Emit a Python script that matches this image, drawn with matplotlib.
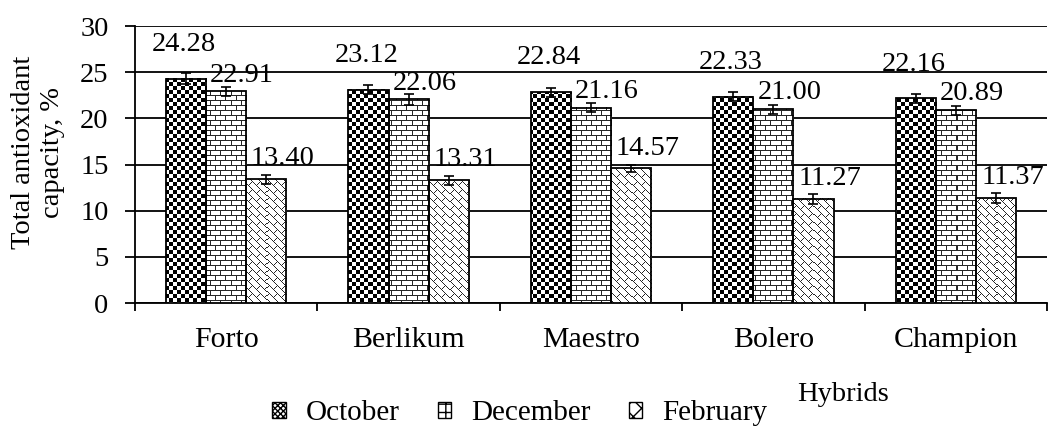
import numpy as np
import matplotlib.pyplot as plt
from matplotlib.patches import Patch

hybrids = ['Forto', 'Berlikum', 'Maestro', 'Bolero', 'Champion']
months = ['October', 'December', 'February']
october = [24.28, 23.12, 22.84, 22.33, 22.16]
december = [22.91, 22.06, 21.16, 21.00, 20.89]
february = [13.40, 13.31, 14.57, 11.27, 11.37]
err_oct = [0.6, 0.5, 0.5, 0.5, 0.5]
err_dec = [0.5, 0.6, 0.5, 0.5, 0.5]
err_feb = [0.5, 0.5, 0.4, 0.5, 0.5]

plt.rcParams['font.family'] = ['Liberation Serif', 'DejaVu Serif']
plt.rcParams['hatch.linewidth'] = 1.0


# fill textures (Excel-like: small checker, horizontal brick, diagonal brick)
def checker(X, Y):
    return ((X // 4 + Y // 4) % 2 == 0).astype(float)


def brick(X, Y):
    row = Y // 5
    hline = (Y % 5 == 0)
    vline = ((X + (row % 2) * 5) % 10 == 0)
    return np.where(hline | vline, 0.15, 1.0)


def diag_brick(X, Y):
    u = X + Y
    v = X - Y
    row = u // 8
    line1 = (u % 8 == 0)
    line2 = ((v + (row % 2) * 8) % 16 == 0)
    return np.where(line1 | line2, 0.15, 1.0)


fig = plt.figure(figsize=(10.48, 4.26), dpi=100)
ax = fig.add_axes([0.1288, 0.2887, 0.8702, 0.6502])
ax.set_xlim(-0.5, 4.5)
ax.set_ylim(0, 30)

x = np.arange(len(hybrids))
w = 0.22
series = [october, december, february]
errs = [err_oct, err_dec, err_feb]
patterns = [checker, brick, diag_brick]
hatches = ['xxxxxx', '++', 'xx']
# label offsets in points (dx, dy above bar top)
lab_off = [(-1.5, 20), (11.5, 7), (12, 10)]

for i, (vals, e) in enumerate(zip(series, errs)):
    pos = x + (i - 1) * w
    bars = ax.bar(pos, vals, w, color='white', edgecolor='black',
                  linewidth=1.3, zorder=3)
    for b in bars:
        x0, x1 = b.get_x(), b.get_x() + b.get_width()
        y1 = b.get_height()
        (px0, py0), (px1, py1) = ax.transData.transform([(x0, 0), (x1, y1)])
        cols = np.arange(int(px0), int(px1))
        rows = np.arange(int(py1), int(py0), -1)
        X, Y = np.meshgrid(cols, rows)
        ax.imshow(patterns[i](X, Y), extent=(x0, x1, 0, y1), cmap='gray',
                  vmin=0, vmax=1, interpolation='nearest', aspect='auto', zorder=3.5)
        b.set_facecolor('none')
        b.set_zorder(3.6)
    ax.errorbar(pos, vals, yerr=e, fmt='none', ecolor='black', elinewidth=1.2,
                capsize=3.5, capthick=1.2, zorder=4)
    for p, v in zip(pos, vals):
        ax.annotate('%.2f' % v, (p, v), xytext=lab_off[i], textcoords='offset points',
                    ha='center', va='baseline', fontsize=20.5, zorder=5)

ax.set_xlim(-0.5, 4.5)
ax.set_ylim(0, 30)
ax.set_yticks(np.arange(0, 31, 5))
ax.grid(axis='y', color='black', linewidth=1.3, zorder=0)
ax.set_axisbelow(True)
for s in ['top', 'right']:
    ax.spines[s].set_visible(False)
ax.spines['left'].set_linewidth(1.3)
ax.spines['bottom'].set_linewidth(1.3)

ax.set_xticks(x)
ax.set_xticklabels(hybrids, fontsize=21.5)
ax.tick_params(axis='x', which='major', length=0, pad=17)
ax.set_xticks(np.arange(-0.5, 5, 1), minor=True)
ax.tick_params(axis='x', which='minor', length=6, width=1.3, direction='out')
ax.tick_params(axis='y', length=7, width=1.3, pad=12, labelsize=20.5)

fig.text(0.022, 0.643, 'Total antioxidant', rotation=90, ha='center', va='center', fontsize=20.5)
fig.text(0.050, 0.643, 'capacity, %', rotation=90, ha='center', va='center', fontsize=20.5)
fig.text(0.804, 0.073, 'Hybrids', ha='center', va='center', fontsize=20.5)

handles = [Patch(facecolor='white', edgecolor='black', hatch=h, label=m)
           for h, m in zip(hatches, months)]
fig.legend(handles=handles, loc='center', bbox_to_anchor=(0.496, 0.03), ncol=3,
           frameon=False, fontsize=21, handlelength=0.45, handleheight=0.45,
           handletextpad=0.7, columnspacing=1.3, borderpad=0)

fig.savefig('out.png', dpi=100)
